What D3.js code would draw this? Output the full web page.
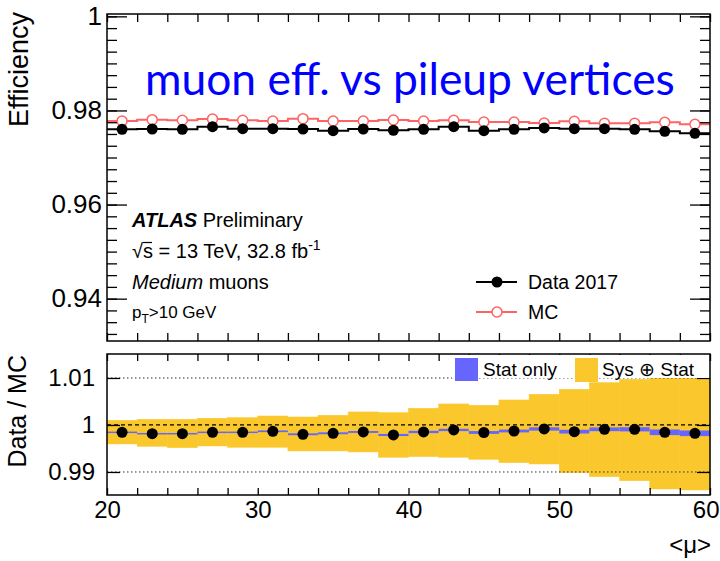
<!DOCTYPE html>
<html>
<head>
<meta charset="utf-8">
<script src="https://cdn.jsdelivr.net/npm/d3@7"></script>
<style>
  body { margin: 0; background: #fff; }
  svg { display: block; }
  text { font-family: "Liberation Sans", Arial, sans-serif; fill: #000; }
</style>
</head>
<body>
<div id="chart-area"></div>
<script>
// bin centres of <mu> (bins of width 2 from 20 to 60)
const muCenters = [21, 23, 25, 27, 29, 31, 33, 35, 37, 39, 41, 43, 45, 47, 49, 51, 53, 55, 57, 59];
const binHalf = 1;

// efficiency, data 2017 and MC
const effData = [0.97600, 0.97606, 0.97600, 0.97655, 0.97613, 0.97613, 0.97606, 0.97570, 0.97606, 0.97579,
                 0.97600, 0.97655, 0.97570, 0.97600, 0.97628, 0.97613, 0.97613, 0.97600, 0.97557, 0.97515];
const effMC = [0.97777, 0.97804, 0.97791, 0.97819, 0.97791, 0.97777, 0.97826, 0.97777, 0.97777, 0.97798,
               0.97777, 0.97791, 0.97755, 0.97755, 0.97734, 0.97770, 0.97728, 0.97728, 0.97749, 0.97706];

// data / MC ratio with stat-only half width and sys+stat band edges
const ratio = [0.99844, 0.99815, 0.99815, 0.99844, 0.99844, 0.99866, 0.99802, 0.99823, 0.99851, 0.99787,
               0.99851, 0.99894, 0.99840, 0.99872, 0.99915, 0.99858, 0.99908, 0.99908, 0.99844, 0.99823];
const statErr = [0.00015, 0.00015, 0.00015, 0.00015, 0.00015, 0.00018, 0.0002, 0.0002, 0.0002, 0.00022,
                 0.00025, 0.00025, 0.0003, 0.0003, 0.00035, 0.0004, 0.0004, 0.00045, 0.0006, 0.0006];
const sysUp = [1.00100, 1.00121, 1.00121, 1.00143, 1.00155, 1.00191, 1.00170, 1.00206, 1.00277, 1.00262,
               1.00355, 1.00447, 1.00419, 1.00532, 1.00653, 1.00760, 1.00900, 1.00972, 1.01043, 1.01006];
const sysDown = [0.99596, 0.99547, 0.99517, 0.99553, 0.99526, 0.99526, 0.99447, 0.99447, 0.99426, 0.99313,
                 0.99326, 0.99313, 0.99270, 0.99198, 0.99170, 0.98985, 0.98900, 0.98815, 0.98638, 0.98617];

// tick labels
const effTicks = [0.94, 0.96, 0.98, 1];
const ratioTicks = [0.99, 1, 1.01];
const muTicks = [20, 30, 40, 50, 60];

const W = 720, H = 561;
const left = 107, right = 710;
const topY0 = 14, topY1 = 341;
const botY0 = 354, botY1 = 495;

const svg = d3.select("#chart-area").append("svg")
    .attr("width", W).attr("height", H);

const x = d3.scaleLinear().domain([20, 60]).range([left, right]);
const yTop = d3.scaleLinear().domain([0.931, 1.0005]).range([topY1, topY0]);
const yBot = d3.scaleLinear().domain([0.9851, 1.0151]).range([botY1, botY0]);

const fmt = v => String(v);
const minorX = d3.range(20, 61, 2);
const minorEff = d3.range(373, 401).map(i => i / 400);

function styleAxis(g, size) {
    g.select(".domain").remove();
    g.selectAll("line").attr("stroke", "#000").attr("stroke-width", 1.3);
    g.attr("font-family", null).attr("font-size", null);
    g.selectAll("text").attr("font-size", size).attr("fill", "#000");
    return g;
}

// ---------- top panel ----------
const gTop = svg.append("g");

function stepPoints(vals) {
    const pts = [];
    muCenters.forEach((m, i) => {
        pts.push([m - binHalf, vals[i]]);
        pts.push([m + binHalf, vals[i]]);
    });
    return pts;
}
const stepLine = d3.line().x(d => x(d[0])).y(d => yTop(d[1]));

gTop.append("path").attr("d", stepLine(stepPoints(effMC)))
    .attr("fill", "none").attr("stroke", "#ff6464").attr("stroke-width", 2);
gTop.append("path").attr("d", stepLine(stepPoints(effData)))
    .attr("fill", "none").attr("stroke", "#000").attr("stroke-width", 2);

gTop.selectAll(".mc-pt").data(effMC).enter().append("circle")
    .attr("cx", (d, i) => x(muCenters[i])).attr("cy", d => yTop(d))
    .attr("r", 5).attr("fill", "#fff").attr("stroke", "#ff6464").attr("stroke-width", 1.5);
gTop.selectAll(".data-pt").data(effData).enter().append("circle")
    .attr("cx", (d, i) => x(muCenters[i])).attr("cy", d => yTop(d))
    .attr("r", 5.5).attr("fill", "#000");

// axes of top panel
styleAxis(gTop.append("g").attr("transform", `translate(${left},0)`)
    .call(d3.axisLeft(yTop).tickValues(minorEff).tickSize(-10).tickFormat("")), 0);
styleAxis(gTop.append("g").attr("transform", `translate(${left},0)`)
    .call(d3.axisLeft(yTop).tickValues(effTicks).tickSize(-20).tickPadding(5).tickFormat(fmt)), 26);
styleAxis(gTop.append("g").attr("transform", `translate(${right},0)`)
    .call(d3.axisRight(yTop).tickValues(minorEff).tickSize(-10).tickFormat("")), 0);
styleAxis(gTop.append("g").attr("transform", `translate(${right},0)`)
    .call(d3.axisRight(yTop).tickValues(effTicks).tickSize(-20).tickFormat("")), 0);
styleAxis(gTop.append("g").attr("transform", `translate(0,${topY1})`)
    .call(d3.axisTop(x).tickValues(minorX).tickSize(8).tickFormat("")), 0);
styleAxis(gTop.append("g").attr("transform", `translate(0,${topY0})`)
    .call(d3.axisBottom(x).tickValues(minorX).tickSize(8).tickFormat("")), 0);

gTop.append("rect").attr("x", left).attr("y", topY0)
    .attr("width", right - left).attr("height", topY1 - topY0)
    .attr("fill", "none").attr("stroke", "#000").attr("stroke-width", 1.5);

svg.append("text").attr("transform", "translate(28,12) rotate(-90)")
    .attr("text-anchor", "end").attr("font-size", 27).text("Efficiency");

// title
const title = svg.append("text").attr("x", 145).attr("y", 95)
    .style("font-family", "Lato, 'Open Sans', sans-serif")
    .attr("font-size", 40).style("fill", "#0000ff")
    .text("muon eff. vs pileup vertices");
const tw = title.node().getComputedTextLength();
title.attr("font-size", 40 * 530 / tw);

// ATLAS label
const lab = svg.append("g");
const t1 = lab.append("text").attr("x", 132).attr("y", 227).attr("font-size", 20);
t1.append("tspan").attr("font-weight", "bold").attr("font-style", "italic").text("ATLAS");
t1.append("tspan").text(" Preliminary");
const t2 = lab.append("text").attr("x", 132).attr("y", 258).attr("font-size", 20);
t2.append("tspan").text("\u221As = 13 TeV, 32.8 fb");
t2.append("tspan").attr("font-size", 14).attr("dy", -8).text("-1");
// overline of the square root
lab.append("line").attr("x1", 143).attr("x2", 152).attr("y1", 242.5).attr("y2", 242.5)
    .attr("stroke", "#000").attr("stroke-width", 1.2);
const t3 = lab.append("text").attr("x", 132).attr("y", 289).attr("font-size", 20);
t3.append("tspan").attr("font-style", "italic").text("Medium");
t3.append("tspan").text(" muons");
const t4 = lab.append("text").attr("x", 132).attr("y", 318).attr("font-size", 17);
t4.append("tspan").text("p");
t4.append("tspan").attr("font-size", 12).attr("dy", 5).text("T");
t4.append("tspan").attr("dy", -5).text(">10 GeV");

// legend (top)
const legTop = svg.append("g");
legTop.append("line").attr("x1", 476).attr("x2", 517).attr("y1", 282).attr("y2", 282)
    .attr("stroke", "#000").attr("stroke-width", 2);
legTop.append("circle").attr("cx", 497).attr("cy", 282).attr("r", 5.5).attr("fill", "#000");
legTop.append("text").attr("x", 528).attr("y", 289).attr("font-size", 19.5).text("Data 2017");
legTop.append("line").attr("x1", 476).attr("x2", 517).attr("y1", 312).attr("y2", 312)
    .attr("stroke", "#ff6464").attr("stroke-width", 2);
legTop.append("circle").attr("cx", 497).attr("cy", 312).attr("r", 5)
    .attr("fill", "#fff").attr("stroke", "#ff6464").attr("stroke-width", 1.5);
legTop.append("text").attr("x", 528).attr("y", 319).attr("font-size", 19.5).text("MC");

// ---------- bottom panel ----------
const gBot = svg.append("g");
const yellow = "#fac72d", blue = "#6666ff";

gBot.selectAll(".sys").data(muCenters).enter().append("rect")
    .attr("x", d => x(d - binHalf)).attr("width", d => x(d + binHalf) - x(d - binHalf))
    .attr("y", (d, i) => yBot(sysUp[i]))
    .attr("height", (d, i) => yBot(sysDown[i]) - yBot(sysUp[i]))
    .attr("fill", yellow).attr("stroke", yellow).attr("stroke-width", 0.5);
gBot.selectAll(".stat").data(muCenters).enter().append("rect")
    .attr("x", d => x(d - binHalf)).attr("width", d => x(d + binHalf) - x(d - binHalf))
    .attr("y", (d, i) => yBot(ratio[i] + statErr[i]))
    .attr("height", (d, i) => Math.max(1.5, yBot(ratio[i] - statErr[i]) - yBot(ratio[i] + statErr[i])))
    .attr("fill", blue);

[0.99, 1.01].forEach(v => {
    gBot.append("line").attr("x1", left).attr("x2", right).attr("y1", yBot(v)).attr("y2", yBot(v))
        .attr("stroke", "#333").attr("stroke-width", 1).attr("stroke-dasharray", "1.5,2.5");
});
gBot.append("line").attr("x1", left).attr("x2", right).attr("y1", yBot(1)).attr("y2", yBot(1))
    .attr("stroke", "#000").attr("stroke-width", 1.3).attr("stroke-dasharray", "4,3");

gBot.selectAll(".ratio-pt").data(ratio).enter().append("circle")
    .attr("cx", (d, i) => x(muCenters[i])).attr("cy", d => yBot(d))
    .attr("r", 5.5).attr("fill", "#000");

// legend (bottom), white box over the bands
const legBot = svg.append("g");
legBot.append("rect").attr("x", 452).attr("y", botY0 + 1).attr("width", right - 452 - 1).attr("height", 23)
    .attr("fill", "#fff");
legBot.append("rect").attr("x", 455).attr("y", 358).attr("width", 23).attr("height", 23).attr("fill", blue);
legBot.append("text").attr("x", 483).attr("y", 376).attr("font-size", 19).text("Stat only");
legBot.append("rect").attr("x", 575).attr("y", 358).attr("width", 23).attr("height", 24).attr("fill", yellow);
legBot.append("text").attr("x", 602).attr("y", 376).attr("font-size", 19).text("Sys \u2295 Stat");

// axes of bottom panel
styleAxis(gBot.append("g").attr("transform", `translate(${left},0)`)
    .call(d3.axisLeft(yBot).tickValues(ratioTicks).tickSize(-13).tickPadding(12).tickFormat(fmt)), 24);
styleAxis(gBot.append("g").attr("transform", `translate(${right},0)`)
    .call(d3.axisRight(yBot).tickValues(ratioTicks).tickSize(-13).tickFormat("")), 0);
styleAxis(gBot.append("g").attr("transform", `translate(0,${botY1})`)
    .call(d3.axisTop(x).tickValues(minorX).tickSize(7).tickFormat("")), 0);
styleAxis(gBot.append("g").attr("transform", `translate(0,${botY0})`)
    .call(d3.axisBottom(x).tickValues(minorX).tickSize(7).tickFormat("")), 0);
const xLab = styleAxis(gBot.append("g").attr("transform", `translate(0,${botY1})`)
    .call(d3.axisBottom(x).tickValues(muTicks).tickSize(0).tickPadding(6).tickFormat(fmt)), 24);
// keep the last label inside the window
xLab.selectAll(".tick text").filter(d => d === 60).attr("text-anchor", "end").attr("x", 9);

gBot.append("rect").attr("x", left).attr("y", botY0)
    .attr("width", right - left).attr("height", botY1 - botY0)
    .attr("fill", "none").attr("stroke", "#000").attr("stroke-width", 1.5);

svg.append("text").attr("transform", "translate(26,355) rotate(-90)")
    .attr("text-anchor", "end").attr("font-size", 25).text("Data / MC");
svg.append("text").attr("x", 711).attr("y", 553)
    .attr("text-anchor", "end").attr("font-size", 24).text("<\u03BC>");
</script>
</body>
</html>
